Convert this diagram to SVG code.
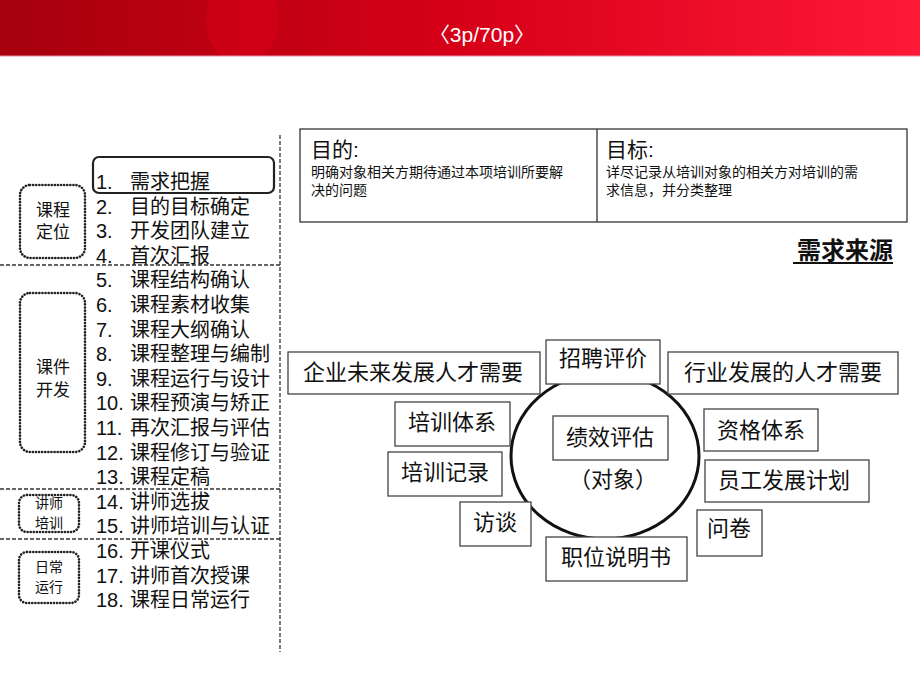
<svg xmlns="http://www.w3.org/2000/svg" width="920" height="690" viewBox="0 0 920 690">
<defs>
<linearGradient id="hdr" x1="0" y1="0" x2="1" y2="0">
<stop offset="0" stop-color="#a6000e"/>
<stop offset="0.5" stop-color="#d60018"/>
<stop offset="1" stop-color="#ff1838"/>
</linearGradient>
<clipPath id="band"><rect x="0" y="0" width="920" height="56"/></clipPath>
<style>
text{font-family:"Liberation Sans","Noto Sans CJK SC",sans-serif;fill:#111}
.li{font-size:20px}
.grp{font-size:17px;text-anchor:middle}
.sgrp{font-size:14px;text-anchor:middle}
.dash{stroke:#333;stroke-width:1.3;stroke-dasharray:4 2;fill:none}
.dot{stroke:#222;stroke-width:2.6;stroke-dasharray:0.1 3;stroke-linecap:round;fill:none}
.box{fill:#fff;stroke:#444;stroke-width:1.3}
.bt{font-size:22px;text-anchor:middle}
</style>
</defs>
<rect width="920" height="690" fill="#fff"/>
<g id="header">
<rect x="0" y="0" width="920" height="56" fill="url(#hdr)"/>
<ellipse cx="242" cy="20" rx="36" ry="45" fill="#f0001c" opacity="0.3" clip-path="url(#band)"/>
<line x1="0" y1="56" x2="920" y2="56" stroke="#e890a0" stroke-width="1"/>
<text x="482" y="42" style="font-size:21px;fill:#fff;text-anchor:middle">〈3p/70p〉</text>
</g>
<g id="separators">
<line class="dash" x1="280" y1="135" x2="280" y2="652"/>
<line class="dash" x1="0" y1="265" x2="280" y2="265"/>
<line class="dash" x1="0" y1="489" x2="280" y2="489"/>
<line class="dash" x1="0" y1="539" x2="280" y2="539"/>
</g>
<g id="group-dingwei">
<rect class="dot" x="20" y="185" width="65" height="73" rx="10"/>
<text class="grp" x="53" y="216">课程</text>
<text class="grp" x="53" y="238">定位</text>
</g>
<g id="group-kaifa">
<rect class="dot" x="20" y="293" width="65" height="159" rx="10"/>
<text class="grp" x="53" y="373">课件</text>
<text class="grp" x="53" y="396">开发</text>
</g>
<g id="group-peixun">
<rect class="dot" x="19" y="495" width="60" height="37" rx="8"/>
<text class="sgrp" x="49" y="508">讲师</text>
<text class="sgrp" x="49" y="528">培训</text>
</g>
<g id="group-yunxing">
<rect class="dot" x="19" y="552" width="60" height="51" rx="8"/>
<text class="sgrp" x="49" y="572">日常</text>
<text class="sgrp" x="49" y="592">运行</text>
</g>
<g id="highlight">
<rect x="93" y="157" width="181" height="36" rx="6" fill="none" stroke="#222" stroke-width="2.2"/>
</g>
<g id="list">
<text class="li" y="189"><tspan x="96">1.</tspan><tspan x="130">需求把握</tspan></text>
<text class="li" y="214"><tspan x="96">2.</tspan><tspan x="130">目的目标确定</tspan></text>
<text class="li" y="238"><tspan x="96">3.</tspan><tspan x="130">开发团队建立</tspan></text>
<text class="li" y="263"><tspan x="96">4.</tspan><tspan x="130">首次汇报</tspan></text>
<text class="li" y="287"><tspan x="96">5.</tspan><tspan x="130">课程结构确认</tspan></text>
<text class="li" y="312"><tspan x="96">6.</tspan><tspan x="130">课程素材收集</tspan></text>
<text class="li" y="337"><tspan x="96">7.</tspan><tspan x="130">课程大纲确认</tspan></text>
<text class="li" y="361"><tspan x="96">8.</tspan><tspan x="130">课程整理与编制</tspan></text>
<text class="li" y="386"><tspan x="96">9.</tspan><tspan x="130">课程运行与设计</tspan></text>
<text class="li" y="410"><tspan x="96">10.</tspan><tspan x="130">课程预演与矫正</tspan></text>
<text class="li" y="435"><tspan x="96">11.</tspan><tspan x="130">再次汇报与评估</tspan></text>
<text class="li" y="460"><tspan x="96">12.</tspan><tspan x="130">课程修订与验证</tspan></text>
<text class="li" y="484"><tspan x="96">13.</tspan><tspan x="130">课程定稿</tspan></text>
<text class="li" y="509"><tspan x="96">14.</tspan><tspan x="130">讲师选拔</tspan></text>
<text class="li" y="533"><tspan x="96">15.</tspan><tspan x="130">讲师培训与认证</tspan></text>
<text class="li" y="558"><tspan x="96">16.</tspan><tspan x="130">开课仪式</tspan></text>
<text class="li" y="583"><tspan x="96">17.</tspan><tspan x="130">讲师首次授课</tspan></text>
<text class="li" y="607"><tspan x="96">18.</tspan><tspan x="130">课程日常运行</tspan></text>
</g>
<g id="purpose-table">
<rect x="300" y="129" width="607" height="93" fill="#fff" stroke="#333" stroke-width="1.3"/>
<line x1="597" y1="129" x2="597" y2="222" stroke="#333" stroke-width="1.3"/>
<text x="311" y="157" style="font-size:21px">目的:</text>
<text x="311" y="177" style="font-size:14px">明确对象相关方期待通过本项培训所要解</text>
<text x="311" y="195" style="font-size:14px">决的问题</text>
<text x="606" y="157" style="font-size:21px">目标:</text>
<text x="606" y="177" style="font-size:14px">详尽记录从培训对象的相关方对培训的需</text>
<text x="606" y="195" style="font-size:14px">求信息，并分类整理</text>
</g>
<g id="title-source">
<text x="893" y="259" style="font-size:24px;font-weight:bold;text-anchor:end">需求来源</text>
<line x1="793" y1="263" x2="893" y2="263" stroke="#111" stroke-width="2"/>
</g>
<g id="center">
<ellipse cx="605" cy="456" rx="94" ry="83" fill="none" stroke="#111" stroke-width="3"/>
<rect class="box" x="553" y="416" width="115" height="44"/>
<text class="bt" x="610" y="445">绩效评估</text>
<text class="bt" x="613" y="487">（对象）</text>
</g>
<g id="n-qiye"><rect class="box" x="288" y="352" width="252" height="42"/><text class="bt" x="413" y="380">企业未来发展人才需要</text></g>
<g id="n-zhaopin"><rect class="box" x="546" y="340" width="114" height="44"/><text class="bt" x="603" y="366">招聘评价</text></g>
<g id="n-hangye"><rect class="box" x="668" y="352" width="230" height="42"/><text class="bt" x="783" y="380">行业发展的人才需要</text></g>
<g id="n-tixi"><rect class="box" x="395" y="402" width="115" height="44"/><text class="bt" x="452" y="430">培训体系</text></g>
<g id="n-zige"><rect class="box" x="704" y="409" width="114" height="42"/><text class="bt" x="761" y="438">资格体系</text></g>
<g id="n-jilu"><rect class="box" x="388" y="452" width="114" height="44"/><text class="bt" x="445" y="480">培训记录</text></g>
<g id="n-yuangong"><rect class="box" x="705" y="460" width="164" height="42"/><text class="bt" x="784" y="488">员工发展计划</text></g>
<g id="n-fangtan"><rect class="box" x="460" y="502" width="71" height="44"/><text class="bt" x="495" y="530">访谈</text></g>
<g id="n-wenjuan"><rect class="box" x="697" y="510" width="65" height="46"/><text class="bt" x="729" y="536">问卷</text></g>
<g id="n-zhiwei"><rect class="box" x="546" y="537" width="141" height="44"/><text class="bt" x="616" y="565">职位说明书</text></g>
</svg>
